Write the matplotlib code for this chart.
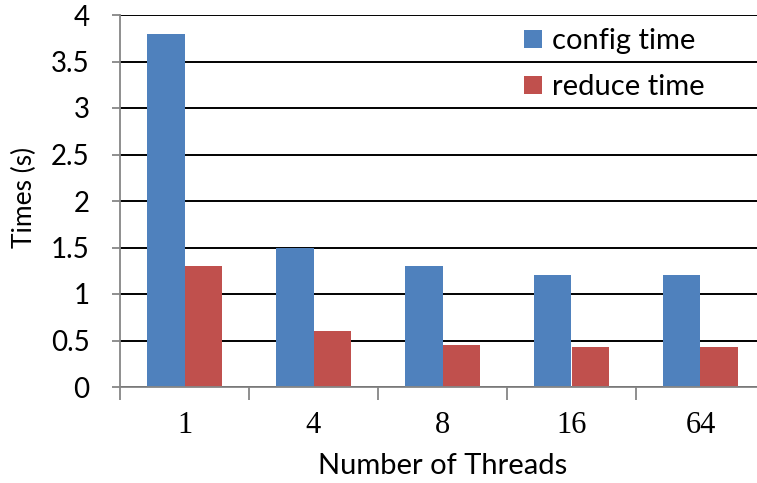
import matplotlib
matplotlib.use("Agg")
import matplotlib.pyplot as plt
import numpy as np

categories = ["1", "4", "8", "16", "64"]
config_time = [3.8, 1.5, 1.3, 1.2, 1.2]
reduce_time = [1.3, 0.6, 0.45, 0.43, 0.43]
series_labels = ["config time", "reduce time"]
y_ticks = [0, 0.5, 1, 1.5, 2, 2.5, 3, 3.5, 4]
y_ticklabels = ["0", "0.5", "1", "1.5", "2", "2.5", "3", "3.5", "4"]

SANS = ["Lato", "DejaVu Sans"]
SERIF = ["Liberation Serif", "DejaVu Serif"]
BLUE = "#4f81bd"
RED = "#c0504d"
GRAY = "#868686"

W, H = 757, 483
fig = plt.figure(figsize=(W / 100, H / 100), dpi=100)
left, right, top, bottom = 120, 765, 15, 387
ax = fig.add_axes([left / W, (H - bottom) / H, (right - left) / W, (bottom - top) / H])

x = np.arange(len(categories))
bw = 0.29
ax.bar(x - bw / 2, config_time, bw, color=BLUE, label=series_labels[0], zorder=3)
ax.bar(x + bw / 2, reduce_time, bw, color=RED, label=series_labels[1], zorder=3)

ax.set_xlim(-0.5, len(categories) - 0.5)
ax.set_ylim(0, 4)
ax.set_yticks(y_ticks)
ax.set_yticklabels(y_ticklabels, family=SANS, fontsize=20)
ax.yaxis.grid(True, color="black", linewidth=1.4, zorder=1)
ax.set_axisbelow(True)

ax.set_xticks(x)
ax.set_xticklabels(categories, family=SERIF, fontsize=22)
ax.set_xticks(np.arange(len(categories) + 1) - 0.5, minor=True)
ax.tick_params(axis="x", which="major", length=0, pad=17)
ax.tick_params(axis="x", which="minor", length=9, width=1.3, color=GRAY, direction="out")
ax.tick_params(axis="y", length=5.8, width=1.3, color=GRAY, direction="out", pad=16)

for s in ["top", "right"]:
    ax.spines[s].set_visible(False)
for s in ["left", "bottom"]:
    ax.spines[s].set_color(GRAY)
    ax.spines[s].set_linewidth(1.3)
    ax.spines[s].set_zorder(4)

ax.set_ylabel("Times (s)", family=SANS, fontsize=19)
ax.yaxis.set_label_coords((24 - left) / (right - left), (bottom - 197) / (bottom - top))
ax.yaxis.label.set_va("center")
ax.set_xlabel("Number of Threads", family=SANS, fontsize=21)
ax.xaxis.set_label_coords(0.5, (bottom - 466) / (bottom - top))
ax.xaxis.label.set_va("center")

leg = ax.legend(loc="upper left", bbox_to_anchor=(524 / W, 1 - 28 / H),
                bbox_transform=fig.transFigure,
                frameon=False, prop={"family": SANS, "size": 21},
                handlelength=0.62, handleheight=0.59, handletextpad=0.34, labelspacing=0.7,
                borderaxespad=0, borderpad=0)

fig.savefig("out.png", dpi=100)
